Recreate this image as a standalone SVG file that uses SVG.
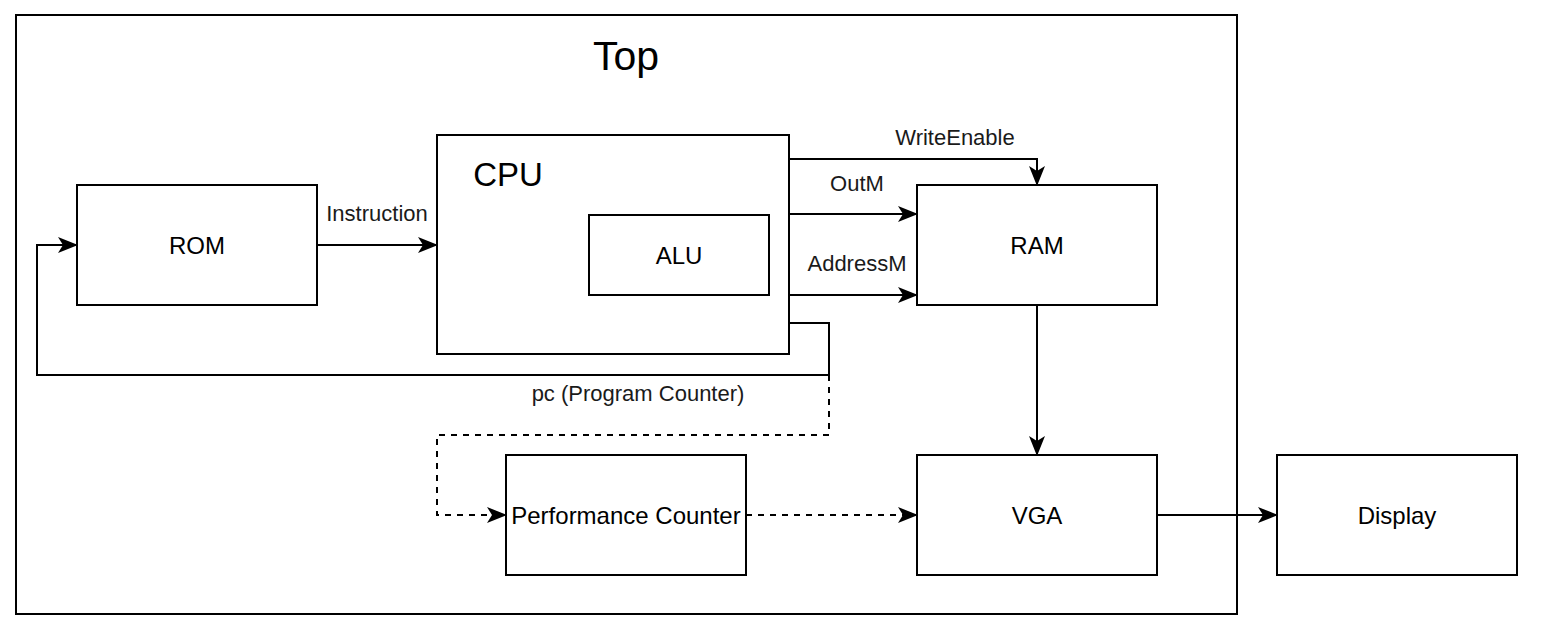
<svg xmlns="http://www.w3.org/2000/svg" width="1544" height="644" viewBox="0 0 1544 644">
<defs>
<style>
.box{fill:#fff;stroke:#000;stroke-width:2}
.cont{fill:#fff;stroke:#000;stroke-width:2}
.lbl{font-family:"Liberation Sans",Arial,sans-serif;font-size:24px;fill:#000;text-anchor:middle}
.elbl{font-family:"Liberation Sans",Arial,sans-serif;font-size:22px;fill:#1a1a1a;text-anchor:middle}
.ln{fill:none;stroke:#000;stroke-width:2}
.dash{stroke-dasharray:6 6}
</style>
<marker id="arr" viewBox="0 0 20 16" refX="19" refY="8" markerWidth="20" markerHeight="16" markerUnits="userSpaceOnUse" orient="auto">
<path d="M0,0 L20,8 L0,16 L5,8 Z" fill="#000"/>
</marker>
</defs>
<rect width="1544" height="644" fill="#fff"/>
<g id="top">
<rect class="cont" x="16" y="15" width="1221" height="599"/>
<text x="626" y="70" font-family="Liberation Sans,Arial,sans-serif" font-size="41" text-anchor="middle">Top</text>
</g>
<g id="cpu">
<rect class="box" x="437" y="135" width="352" height="219"/>
<text x="508" y="186" font-family="Liberation Sans,Arial,sans-serif" font-size="33" text-anchor="middle">CPU</text>
</g>
<g id="alu">
<rect class="box" x="589" y="215" width="180" height="80"/>
<text class="lbl" x="679" y="264">ALU</text>
</g>
<g id="rom">
<rect class="box" x="77" y="185" width="240" height="120"/>
<text class="lbl" x="197" y="254">ROM</text>
</g>
<g id="ram">
<rect class="box" x="917" y="185" width="240" height="120"/>
<text class="lbl" x="1037" y="254">RAM</text>
</g>
<g id="perf">
<rect class="box" x="506" y="455" width="240" height="120"/>
<text class="lbl" x="626" y="524">Performance Counter</text>
</g>
<g id="vga">
<rect class="box" x="917" y="455" width="240" height="120"/>
<text class="lbl" x="1037" y="524">VGA</text>
</g>
<g id="display">
<rect class="box" x="1277" y="455" width="240" height="120"/>
<text class="lbl" x="1397" y="524">Display</text>
</g>
<g id="connectors">
<path class="ln" d="M317,245 L437,245" marker-end="url(#arr)"/>
<text class="elbl" x="377" y="221">Instruction</text>
<path class="ln" d="M789,159 L1037,159 L1037,185" marker-end="url(#arr)"/>
<text class="elbl" x="955" y="145">WriteEnable</text>
<path class="ln" d="M789,214 L917,214" marker-end="url(#arr)"/>
<text class="elbl" x="857" y="191">OutM</text>
<path class="ln" d="M789,295 L917,295" marker-end="url(#arr)"/>
<text class="elbl" x="857" y="271">AddressM</text>
<path class="ln" d="M789,323 L829,323 L829,375 L37,375 L37,245 L77,245" marker-end="url(#arr)"/>
<text class="elbl" x="638" y="401">pc (Program Counter)</text>
<path class="ln dash" d="M829,375 L829,435 L437,435 L437,515 L506,515" marker-end="url(#arr)"/>
<path class="ln dash" d="M746,515 L917,515" marker-end="url(#arr)"/>
<path class="ln" d="M1037,305 L1037,455" marker-end="url(#arr)"/>
<path class="ln" d="M1157,515 L1277,515" marker-end="url(#arr)"/>
</g>
</svg>
